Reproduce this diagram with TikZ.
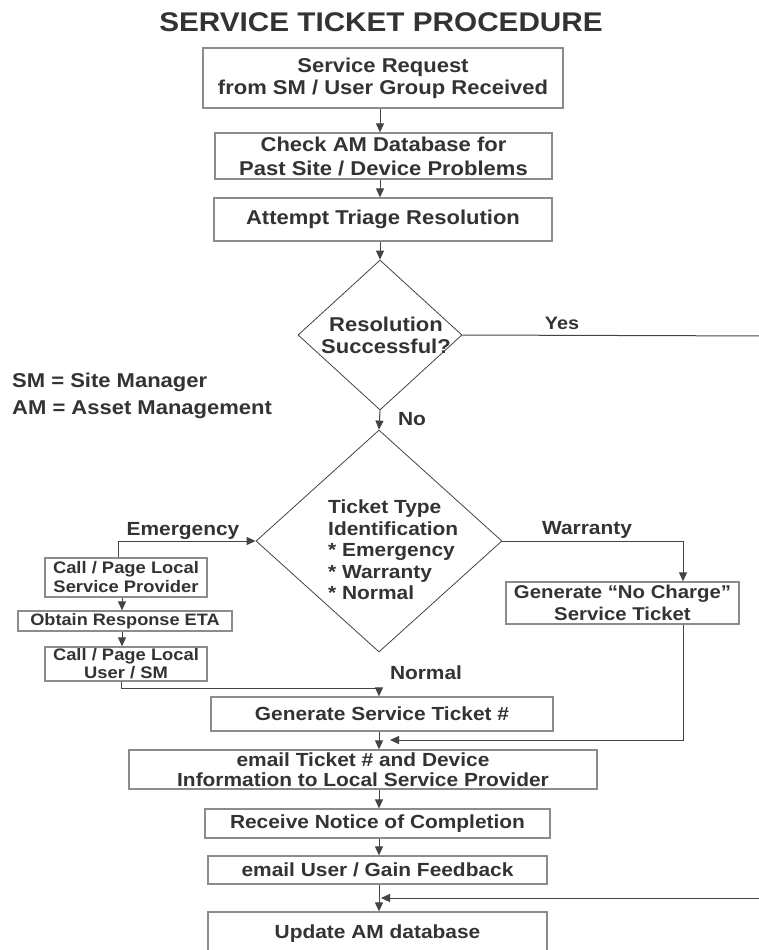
\documentclass[tikz,border=0pt]{standalone}
\usepackage{fontspec}
\setmainfont{Liberation Sans}[FakeStretch=1.1]
\usetikzlibrary{shapes.geometric,arrows.meta}
\definecolor{txt}{HTML}{333333}
\definecolor{boxc}{HTML}{8C8C8C}
\definecolor{lnc}{HTML}{444444}
\newcommand{\fsz}[2]{\bfseries\fontsize{#1}{#2}\selectfont}
\begin{document}
\begin{tikzpicture}[x=1pt,y=-1pt,
  box/.style={draw=boxc, line width=1.3pt, rectangle, inner sep=0pt, align=center, text=txt},
  dia/.style={draw=lnc, line width=0.8pt, diamond, inner sep=0pt},
  lbl/.style={text=txt, inner sep=0pt, font=\fsz{19}{21.5}},
  ln/.style={draw=lnc, line width=1pt},
  arr/.style={draw=lnc, line width=1pt, -{Triangle[length=9pt,width=8pt]}}]
\useasboundingbox (0,0) rectangle (759,950);
\clip (0,0) rectangle (759,950);
\fill[white] (0,0) rectangle (759,950);

% title
\node[text=txt, inner sep=0pt, font=\fsz{27}{32}] (title) at (381,22) {SERVICE TICKET PROCEDURE};

% top boxes
\node[box, minimum width=360pt, minimum height=60pt, font=\fsz{20}{22}] (b1) at (383,78) {Service Request\\from SM / User Group Received};
\node[box, minimum width=337pt, minimum height=46pt, font=\fsz{20}{24}] (b2) at (383.5,156) {Check AM Database for\\Past Site / Device Problems};
\node[box, minimum width=338pt, minimum height=43pt, font=\fsz{20}{22}] (b3) at (383,219.5) {Attempt Triage Resolution};

% decision 1
\node[dia, minimum width=164pt, minimum height=150pt] (d1) at (380,335) {};
\node[text=txt, inner sep=0pt, align=center, font=\fsz{20}{22}] (t1) at (386,335) {Resolution\\Successful?};
\node[lbl, font=\fsz{18}{20}] (yes) at (562,323) {Yes};
\node[lbl] (no) at (412,419) {No};

% legend
\node[text=txt, inner sep=0pt, anchor=west, font=\fsz{20}{22}] (lg1) at (12,382) {SM = Site Manager};
\node[text=txt, inner sep=0pt, anchor=west, font=\fsz{20}{22}] (lg2) at (12,410) {AM = Asset Management};

% decision 2
\node[dia, minimum width=246pt, minimum height=222pt] (d2) at (379,541) {};
\node[text=txt, inner sep=0pt, anchor=west, align=left, font=\fsz{19}{21.5}] (t2) at (328,550) {Ticket Type\\Identification\\* Emergency\\* Warranty\\* Normal};
\node[lbl] (lem) at (183,531) {Emergency};
\node[lbl] (lwa) at (587,530) {Warranty};
\node[lbl] (lno) at (426,673) {Normal};

% emergency branch
\node[box, minimum width=162pt, minimum height=39pt, font=\fsz{16.7}{19}] (c1) at (126,577.5) {Call / Page Local\\Service Provider};
\node[box, minimum width=214pt, minimum height=20pt, font=\fsz{16.5}{18}] (c2) at (125,621) {Obtain Response ETA};
\node[box, minimum width=162pt, minimum height=34pt, font=\fsz{16.7}{18}] (c3) at (126,664) {Call / Page Local\\User / SM};

% warranty branch
\node[box, minimum width=233pt, minimum height=42pt, font=\fsz{18.5}{22}] (w1) at (622.5,603) {Generate “No Charge”\\Service Ticket};

% main lower flow
\node[box, minimum width=342pt, minimum height=34pt, font=\fsz{19}{21}] (g1) at (382,714) {Generate Service Ticket \#};
\node[box, minimum width=468pt, minimum height=39pt, font=\fsz{19}{20}] (e1) at (363,769.5) {email Ticket \# and Device\\Information to Local Service Provider};
\node[box, minimum width=345pt, minimum height=29pt, font=\fsz{19}{21}] (r1) at (377.5,823.5) {Receive Notice of Completion};
\node[box, minimum width=339pt, minimum height=28pt, font=\fsz{19}{21}] (u1) at (377.5,870) {email User / Gain Feedback};
\node[box, minimum width=339pt, minimum height=44pt, font=\fsz{19}{21}] (up1) at (377.5,934) {Update AM database};

% helper coordinates
\coordinate (ex) at (122,0);
\coordinate (ex2) at (121,0);
\coordinate (wx) at (683,0);
\coordinate (yesend) at (775,336);
\coordinate (retend) at (390,740);
\coordinate (fb) at (775,898);
\coordinate (fbend) at (381,898);

% connectors top
\draw[arr] (b1.south -| d1) -- (b2.north -| d1);
\draw[arr] (b2.south -| d1) -- (b3.north -| d1);
\draw[arr] (b3.south -| d1) -- (d1.north);
\draw[ln] (d1.east) -- (yesend);
\draw[arr] (d1.south) -- (d2.north);

% emergency
\draw[arr] ([xshift=-8pt]c1.north) |- (d2.west);
\draw[arr] (c1.south -| ex) -- (c2.north -| ex);
\draw[arr] (c2.south -| ex) -- (c3.north -| ex);
\draw[arr] (c3.south -| ex2) -- ++(0,7) -| (g1.north -| d2);

% warranty
\draw[arr] (d2.east) -| (w1.north -| wx);
\draw[arr] (w1.south -| wx) |- (retend);

% lower flow
\draw[arr] (g1.south -| d2) -- (e1.north -| d2);
\draw[arr] (e1.south -| d2) -- (r1.north -| d2);
\draw[arr] (r1.south -| d2) -- (u1.north -| d2);
\draw[arr] (u1.south -| d2) -- (up1.north -| d2);
\draw[arr] (fb) -- (fbend);
\end{tikzpicture}
\end{document}
